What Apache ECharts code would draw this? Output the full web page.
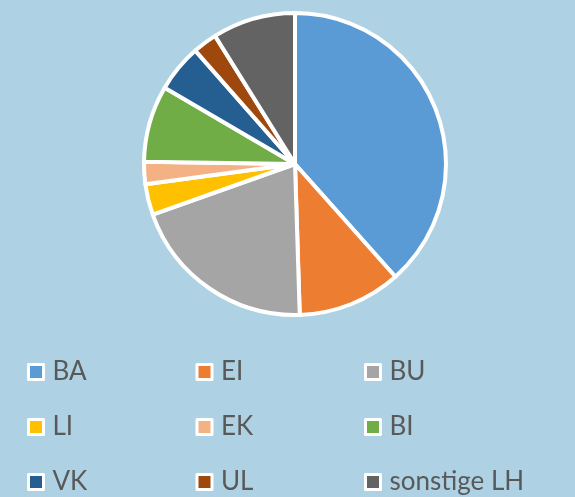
<!DOCTYPE html>
<html>
<head>
<meta charset="utf-8">
<script src="https://cdn.jsdelivr.net/npm/echarts@6/dist/echarts.min.js"></script>
<style>
  html, body { margin: 0; padding: 0; background: #AED2E4; }
  #chart { width: 575px; height: 497px; }
</style>
</head>
<body>
<div id="chart"></div>
<script>
// shares in percent
var categories = ["BA", "EI", "BU", "LI", "EK", "BI", "VK", "UL", "sonstige LH"];
var shares = [38.5, 11.1, 20.1, 3.3, 2.4, 8.2, 5.1, 2.6, 8.9];
var colors = ["#5B9BD5", "#ED7D31", "#A5A5A5", "#FFC000", "#F4B183", "#70AD47", "#255E91", "#9E480E", "#636363"];

var dom = echarts.init(document.getElementById("chart"));

var option = {
  backgroundColor: "#AED2E4",
  color: colors,
  legend: {
    data: categories,
    left: 27,
    top: 357,
    width: 520,
    padding: 0,
    itemWidth: 15,
    itemHeight: 15,
    itemGap: 25,
    icon: "rect",
    itemStyle: {
      borderColor: "#fff",
      borderWidth: 3
    },
    textStyle: {
      fontFamily: "Lato",
      fontSize: 26,
      color: "#595959",
      width: 118,
      lineHeight: 30,
      padding: [0, 0, 0, 4]
    }
  },
  series: [
    {
      type: "pie",
      center: [295, 164],
      radius: 151,
      startAngle: 90,
      clockwise: true,
      label: { show: false },
      labelLine: { show: false },
      emphasis: { disabled: true },
      itemStyle: {
        borderColor: "#fff",
        borderWidth: 4
      },
      data: categories.map(function (c, i) {
        return { name: c, value: shares[i] };
      })
    }
  ]
};

dom.setOption(option);
</script>
</body>
</html>
